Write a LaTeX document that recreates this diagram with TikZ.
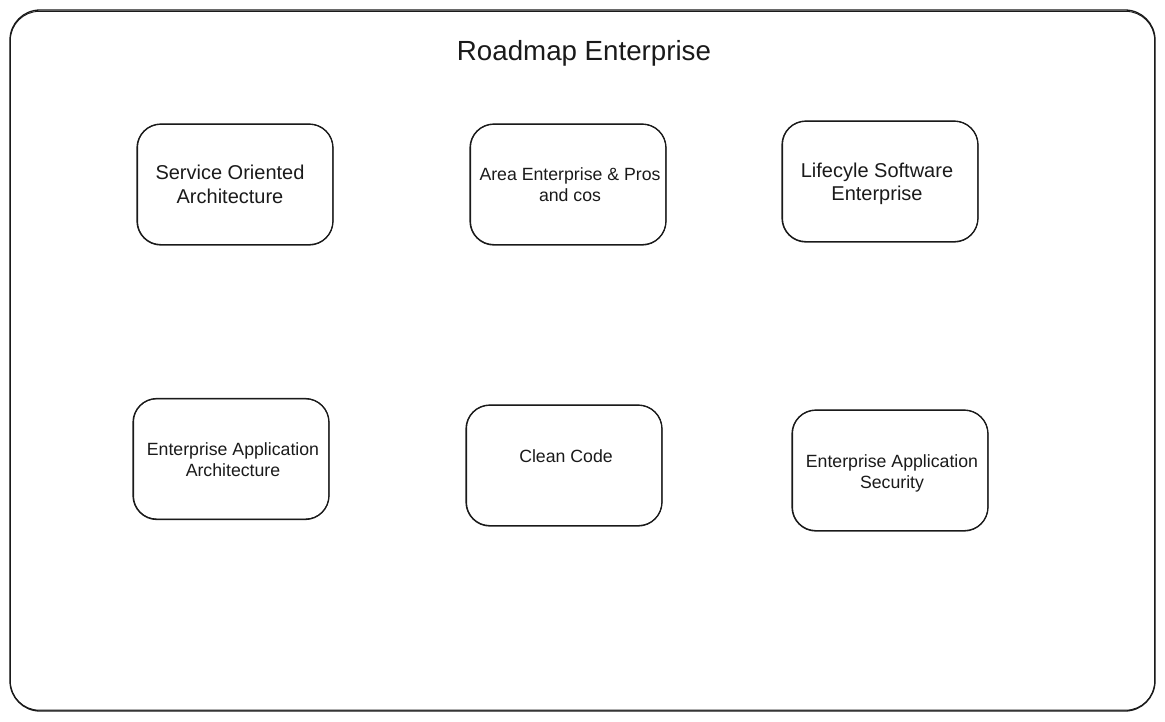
\documentclass[tikz,border=0pt]{standalone}
\usepackage{fontspec}
\setmainfont{Liberation Sans}
\definecolor{ink}{HTML}{1A1A1A}
\tikzset{
  box/.style={draw=ink, line width=1.3pt, rounded corners=24pt, minimum width=196pt, minimum height=121pt, inner sep=0pt},
  frame/.style={draw=ink, line width=1.3pt, rounded corners=30pt, minimum width=1145pt, minimum height=701pt, inner sep=0pt},
  sk/.style={draw=ink, line width=0.9pt, rounded corners=23pt},
  skf/.style={draw=ink, line width=0.9pt, rounded corners=29pt},
  txt/.style={align=center, text=ink, inner sep=0pt},
  big/.style={txt, font=\fontsize{20}{23.5}\selectfont},
  small/.style={txt, font=\fontsize{17.7}{21}\selectfont},
}
\newcommand{\sketchof}[1]{\draw[sk] ([xshift=1.2pt,yshift=-1pt]#1.north west) rectangle ([xshift=-0.8pt,yshift=1.2pt]#1.south east);}
\begin{document}
\begin{tikzpicture}[x=1pt,y=-1pt]
\useasboundingbox (0,0) rectangle (1165,721);
\node[frame] (frame) at (582.5,360.5) {};
\draw[skf] ([xshift=1pt,yshift=-2pt]frame.north west) rectangle ([xshift=-1pt,yshift=1.5pt]frame.south east);
\node[txt, font=\fontsize{27.7}{32}\selectfont] (title) at (584,53) {Roadmap Enterprise};

\node[box] (soa) at (235,184.5) {};
\sketchof{soa}
\node[big] (soa-t) at (230,184.5) {Service Oriented\\Architecture};

\node[box] (area) at (568,184.5) {};
\sketchof{area}
\node[small] (area-t) at (570,184.5) {Area Enterprise \& Pros\\and cos};

\node[box] (life) at (880,181.5) {};
\sketchof{life}
\node[big] (life-t) at (877,184) {Lifecyle Software\\Enterprise};

\node[box] (eaa) at (231,459) {};
\sketchof{eaa}
\node[small] (eaa-t) at (233,460) {Enterprise Application\\Architecture};

\node[box] (clean) at (564,465.5) {};
\sketchof{clean}
\node[small] (clean-t) at (566,456.5) {Clean Code};

\node[box] (eas) at (890,470.5) {};
\sketchof{eas}
\node[small] (eas-t) at (892,473) {Enterprise Application\\Security};
\end{tikzpicture}
\end{document}
